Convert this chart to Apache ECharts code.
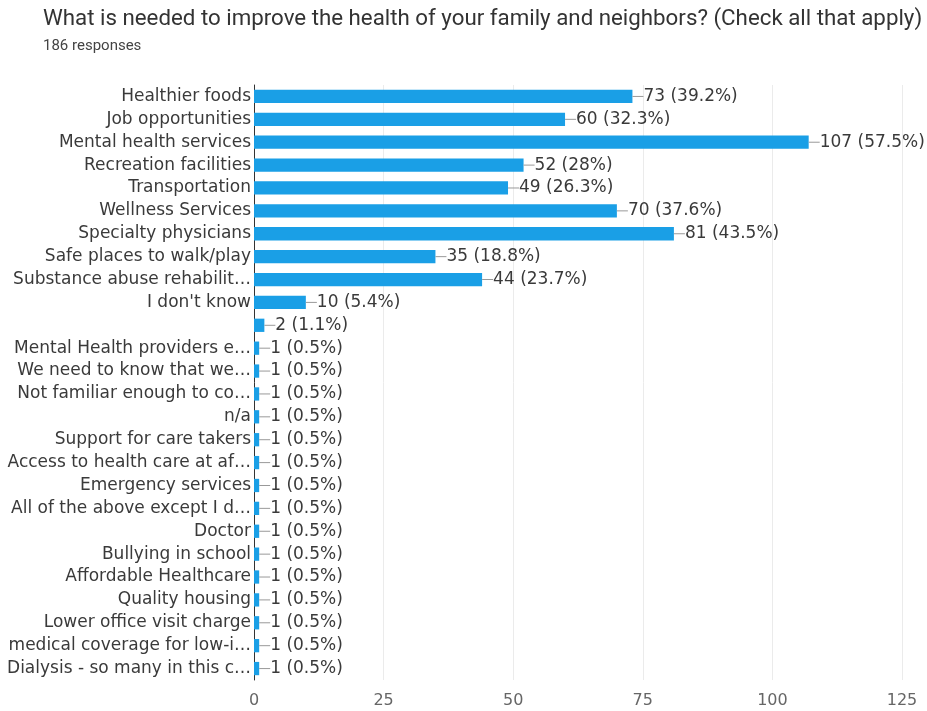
<!DOCTYPE html>
<html>
<head>
<meta charset="utf-8">
<script src="https://cdn.jsdelivr.net/npm/echarts@6/dist/echarts.min.js"></script>
<style>
  html, body { margin: 0; padding: 0; background: #fff; }
  #chart { width: 927px; height: 711px; }
</style>
</head>
<body>
<div id="chart"></div>
<script>
var categories = [
    'Healthier foods', 'Job opportunities', 'Mental health services', 'Recreation facilities',
    'Transportation', 'Wellness Services', 'Specialty physicians', 'Safe places to walk/play',
    'Substance abuse rehabilit\u2026', "I don't know", '',
    'Mental Health providers e\u2026', 'We need to know that we\u2026', 'Not familiar enough to co\u2026',
    'n/a', 'Support for care takers', 'Access to health care at af\u2026', 'Emergency services',
    'All of the above except I d\u2026', 'Doctor', 'Bullying in school', 'Affordable Healthcare',
    'Quality housing', 'Lower office visit charge', 'medical coverage for low-i\u2026',
    'Dialysis - so many in this c\u2026'
];
var counts = [73, 60, 107, 52, 49, 70, 81, 35, 44, 10, 2, 1, 1, 1, 1, 1, 1, 1, 1, 1, 1, 1, 1, 1, 1, 1];
var totalResponses = 186;
var xTicks = [0, 25, 50, 75, 100, 125];

var chart = echarts.init(document.getElementById('chart'));

var option = {
    animation: false,
    title: {
        text: 'What is needed to improve the health of your family and neighbors? (Check all that apply)',
        subtext: totalResponses + ' responses',
        left: 38,
        top: 3,
        itemGap: 9,
        textStyle: {
            fontFamily: 'Roboto',
            fontSize: 22.3,
            fontWeight: 'normal',
            color: '#333'
        },
        subtextStyle: {
            fontFamily: 'Roboto',
            fontSize: 15,
            color: '#444'
        }
    },
    grid: {
        left: 254,
        right: 25,
        top: 85,
        bottom: 31,
        containLabel: false
    },
    xAxis: {
        type: 'value',
        min: xTicks[0],
        max: xTicks[xTicks.length - 1],
        interval: 25,
        axisLine: { show: false },
        axisTick: { show: false },
        splitLine: { show: true, lineStyle: { color: '#ebebeb' } },
        axisLabel: {
            color: '#666',
            fontFamily: 'DejaVu Sans',
            fontSize: 16,
            margin: 13
        }
    },
    yAxis: {
        type: 'category',
        data: categories,
        inverse: true,
        axisLine: { show: true, lineStyle: { color: '#333', width: 1 } },
        axisTick: { show: false },
        axisLabel: {
            color: '#3a3a3a',
            fontFamily: 'DejaVu Sans',
            fontSize: 17,
            margin: 3,
            interval: 0
        }
    },
    series: [
        {
            type: 'bar',
            data: counts,
            barCategoryGap: '42%',
            itemStyle: { color: '#1a9fe6' },
            label: {
                show: true,
                position: 'right',
                distance: 0,
                fontFamily: 'DejaVu Sans',
                fontSize: 17,
                color: '#3a3a3a',
                formatter: function (p) {
                    var pct = parseFloat((p.value / totalResponses * 100).toFixed(1));
                    return '{dash|}' + p.value + ' (' + pct + '%)';
                },
                rich: {
                    dash: { width: 11, height: 1, backgroundColor: '#999', padding: 0 }
                }
            }
        }
    ]
};

chart.setOption(option);
</script>
</body>
</html>
